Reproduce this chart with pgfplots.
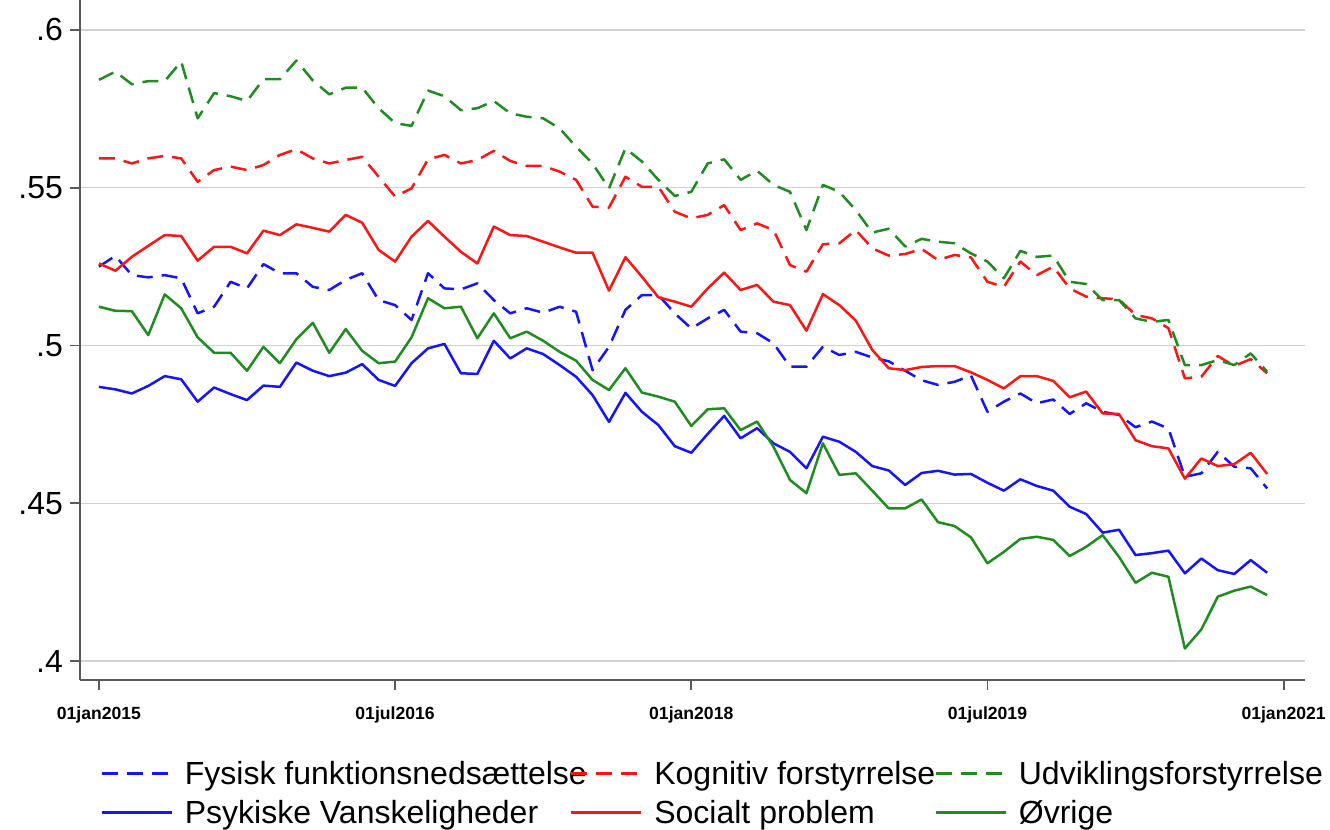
\documentclass[border=0pt]{standalone}
\usepackage{pgfplots}
\pgfplotsset{compat=1.18}
\usepackage{pgfplotstable}
\usepackage{fontspec}
\setmainfont{Liberation Sans}
\definecolor{sgreen}{RGB}{30,140,30}
\definecolor{sblue}{RGB}{20,20,255}
\definecolor{sred}{RGB}{255,20,20}
\pgfplotstableread{
x fy ko ud ps so ov
0 .5250 .5593 .5842 .4869 .5260 .5123
1 .5284 .5593 .5868 .4861 .5237 .5110
2 .5223 .5577 .5828 .4848 .5281 .5109
3 .5216 .5593 .5838 .4872 .5316 .5033
4 .5223 .5601 .5838 .4903 .5350 .5162
5 .5213 .5593 .5900 .4893 .5347 .5118
6 .5102 .5519 .5720 .4822 .5269 .5026
7 .5123 .5556 .5800 .4867 .5313 .4977
8 .5202 .5567 .5790 .4846 .5313 .4977
9 .5181 .5556 .5775 .4827 .5292 .4920
10 .5258 .5572 .5844 .4873 .5364 .4996
11 .5229 .5604 .5844 .4869 .5350 .4944
12 .5229 .5622 .5903 .4946 .5384 .5020
13 .5186 .5593 .5840 .4920 .5373 .5072
14 .5176 .5577 .5796 .4903 .5361 .4977
15 .5208 .5588 .5817 .4914 .5414 .5052
16 .5229 .5598 .5817 .4941 .5389 .4983
17 .5144 .5535 .5752 .4891 .5303 .4944
18 .5128 .5472 .5705 .4872 .5266 .4949
19 .5081 .5498 .5696 .4944 .5345 .5026
20 .5229 .5590 .5808 .4991 .5395 .5150
21 .5181 .5604 .5790 .5005 .5345 .5118
22 .5178 .5577 .5746 .4912 .5297 .5123
23 .5197 .5588 .5752 .4910 .5260 .5023
24 .5144 .5617 .5775 .5015 .5377 .5102
25 .5102 .5585 .5736 .4959 .5350 .5023
26 .5118 .5569 .5725 .4991 .5347 .5044
27 .5104 .5569 .5720 .4973 .5329 .5015
28 .5123 .5551 .5688 .4938 .5311 .4980
29 .5107 .5525 .5630 .4901 .5294 .4952
30 .4922 .5440 .5577 .4843 .5294 .4891
31 .4996 .5437 .5498 .4758 .5174 .4859
32 .5113 .5535 .5625 .4850 .5280 .4928
33 .5160 .5503 .5583 .4790 .5218 .4851
34 .5160 .5503 .5525 .4748 .5153 .4838
35 .5102 .5424 .5474 .4681 .5139 .4822
36 .5054 .5403 .5487 .4660 .5123 .4745
37 .5086 .5414 .5577 .4720 .5181 .4798
38 .5113 .5445 .5590 .4777 .5231 .4801
39 .5044 .5366 .5525 .4706 .5176 .4732
40 .5039 .5387 .5554 .4738 .5192 .4759
41 .5007 .5366 .5509 .4690 .5139 .4679
42 .4933 .5255 .5487 .4663 .5128 .4574
43 .4933 .5234 .5366 .4611 .5047 .4532
44 .4996 .5321 .5509 .4711 .5163 .4690
45 .4970 .5324 .5487 .4695 .5128 .4590
46 .4980 .5366 .5429 .4663 .5079 .4595
47 .4962 .5308 .5358 .4618 .4986 .4540
48 .4950 .5285 .5370 .4604 .4928 .4484
49 .4920 .5290 .5314 .4558 .4922 .4484
50 .4890 .5306 .5338 .4596 .4932 .4512
51 .4875 .5271 .5329 .4603 .4935 .4440
52 .4885 .5287 .5324 .4591 .4935 .4428
53 .4905 .5279 .5292 .4593 .4915 .4392
54 .4790 .5202 .5266 .4565 .4891 .4310
55 .4822 .5186 .5213 .4540 .4864 .4346
56 .4848 .5266 .5300 .4576 .4903 .4387
57 .4817 .5223 .5281 .4555 .4903 .4394
58 .4829 .5250 .5285 .4540 .4888 .4384
59 .4783 .5181 .5202 .4489 .4836 .4333
60 .4817 .5155 .5195 .4466 .4854 .4362
61 .4790 .5150 .5144 .4407 .4785 .4399
62 .4780 .5146 .5144 .4416 .4783 .4330
63 .4741 .5097 .5086 .4336 .4700 .4248
64 .4759 .5086 .5075 .4342 .4681 .4280
65 .4737 .5055 .5081 .4350 .4674 .4267
66 .4584 .4896 .4938 .4278 .4578 .4040
67 .4595 .4901 .4938 .4325 .4642 .4100
68 .4663 .4967 .4954 .4288 .4618 .4204
69 .4616 .4935 .4938 .4276 .4624 .4223
70 .4611 .4957 .4975 .4320 .4660 .4236
71 .4547 .4912 .4917 .4280 .4593 .4209
}\data
\begin{document}
\begin{tikzpicture}
\useasboundingbox (0,0) rectangle (665pt,415pt);
\begin{axis}[
  at={(40pt,75pt)}, anchor=south west,
  scale only axis, width=612.5pt, height=340pt,
  xmin=-1.15, xmax=73.3, ymin=0.394, ymax=0.6095,
  axis lines=left,
  axis line style={-, draw=black!65, line width=1pt},
  tick align=outside,
  major tick length=5pt,
  tick style={draw=black!65, line width=0.9pt},
  xtick={0,18,36,54,72},
  xticklabels={01jan2015,01jul2016,01jan2018,01jul2019,01jan2021},
  xticklabel style={font=\bfseries\fontsize{8.8}{10}\selectfont, yshift=-5pt},
  ytick={0.4,0.45,0.5,0.55,0.6},
  yticklabels={.4,.45,.5,.55,.6},
  yticklabel style={font=\fontsize{16}{19}\selectfont},
  ymajorgrids,
  grid style={draw=black!18, line width=0.75pt},
  every axis plot/.append style={line width=1.25pt, line join=round},
  legend columns=3,
  legend cell align=left,
  legend image code/.code={\draw[#1] (0pt,0pt) -- (35pt,0pt);},
  legend style={draw=none, fill=none, inner sep=0pt,
    at={(axis description cs:0.0163,-0.1147)}, anchor=north west,
    font=\fontsize{16}{19}\selectfont,
    row sep=4.5pt,
    nodes={inner sep=0pt, text height=13pt, text depth=2pt},
    /tikz/every odd column/.append style={column sep=6pt},
    /tikz/every even column/.append style={column sep=0pt}},
]
\addplot[sblue, dash pattern=on 8pt off 4.5pt] table[x=x,y=fy]{\data};
\addlegendentry{\makebox[192.5pt][l]{Fysisk funktionsnedsættelse}}
\addplot[sred, dash pattern=on 8pt off 4.5pt] table[x=x,y=ko]{\data};
\addlegendentry{\makebox[140pt][l]{Kognitiv forstyrrelse}}
\addplot[sgreen, dash pattern=on 8pt off 4.5pt] table[x=x,y=ud]{\data};
\addlegendentry{Udviklingsforstyrrelse}
\addplot[sblue] table[x=x,y=ps]{\data};
\addlegendentry{\makebox[192.5pt][l]{Psykiske Vanskeligheder}}
\addplot[sred] table[x=x,y=so]{\data};
\addlegendentry{\makebox[140pt][l]{Socialt problem}}
\addplot[sgreen] table[x=x,y=ov]{\data};
\addlegendentry{Øvrige}
\end{axis}
\end{tikzpicture}
\end{document}
